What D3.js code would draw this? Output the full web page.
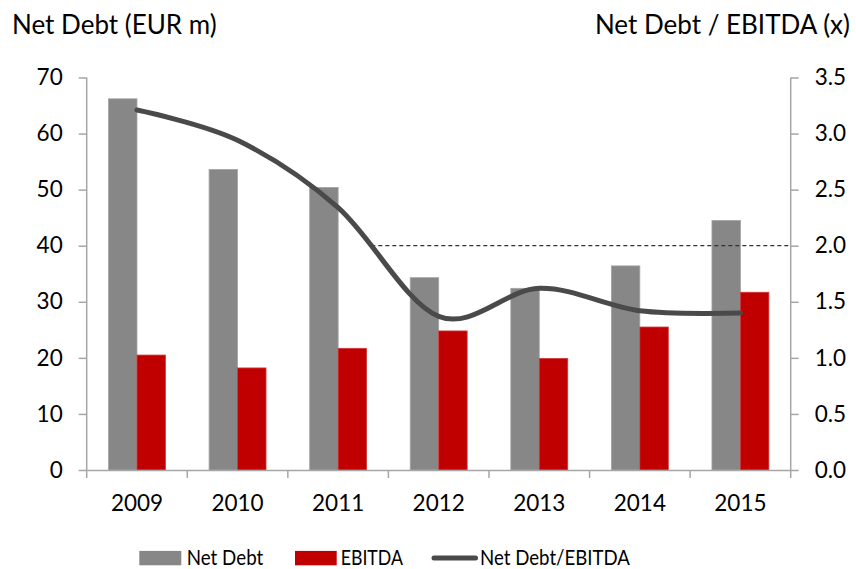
<!DOCTYPE html>
<html>
<head>
<meta charset="utf-8">
<script src="https://cdn.jsdelivr.net/npm/d3@7"></script>
<style>
  html, body { margin: 0; padding: 0; background: #fff; }
  svg { display: block; font-family: Lato, "Open Sans", sans-serif; }
</style>
</head>
<body>
<svg id="chart" width="856" height="569"></svg>
<script>
const years = ["2009", "2010", "2011", "2012", "2013", "2014", "2015"];
const netDebt = [66.2, 53.6, 50.4, 34.3, 32.4, 36.4, 44.5];
const ebitda = [20.5, 18.2, 21.7, 24.8, 19.9, 25.5, 31.7];
const ratio = [3.21, 2.94, 2.34, 1.37, 1.62, 1.42, 1.40];
const leftTicks = [0, 10, 20, 30, 40, 50, 60, 70];
const rightTicks = [0, 0.5, 1.0, 1.5, 2.0, 2.5, 3.0, 3.5];
const threshold = 2.0;
const seriesNames = ["Net Debt", "EBITDA", "Net Debt/EBITDA"];

const svg = d3.select("#chart");
const L = 86.7, R = 790.7, T = 77.5, B = 470;
const axisColor = "#a6a6a6";
const greyFill = "#878787", redFill = "#c00000", lineColor = "#4a4a4a";

const x = d3.scaleBand().domain(years).range([L, R]).padding(0);
const yL = d3.scaleLinear().domain([0, 70]).range([B, T]);
const yR = d3.scaleLinear().domain([0, 3.5]).range([B, T]);
const bw = x.bandwidth() * 0.283;
const cx = d => x(d) + x.bandwidth() / 2;

// Bars
svg.append("g").selectAll("rect").data(years).join("rect")
  .attr("x", (d) => cx(d) - bw)
  .attr("y", (d, i) => yL(netDebt[i]))
  .attr("width", bw)
  .attr("height", (d, i) => B - yL(netDebt[i]))
  .attr("fill", greyFill)
  .attr("stroke", "#a3a3a3").attr("stroke-width", 0.8);

svg.append("g").selectAll("rect").data(years).join("rect")
  .attr("x", (d) => cx(d))
  .attr("y", (d, i) => yL(ebitda[i]))
  .attr("width", bw)
  .attr("height", (d, i) => B - yL(ebitda[i]))
  .attr("fill", redFill)
  .attr("stroke", "#d03a3a").attr("stroke-width", 0.8);

// Threshold dashed line
svg.append("line")
  .attr("x1", x("2011") + x.bandwidth() * 0.83).attr("x2", R)
  .attr("y1", yR(threshold)).attr("y2", yR(threshold))
  .attr("stroke", "#333").attr("stroke-width", 1.2)
  .attr("stroke-dasharray", "4,3");

// Axes
const leftAxis = d3.axisLeft(yL).tickValues(leftTicks).tickSize(8).tickPadding(16)
  .tickFormat(d3.format("d"));
const gL = svg.append("g").attr("transform", `translate(${L},0)`).call(leftAxis);
const rightAxis = d3.axisRight(yR).tickValues(rightTicks).tickSize(8).tickPadding(16)
  .tickFormat(d3.format(".1f"));
const gR = svg.append("g").attr("transform", `translate(${R},0)`).call(rightAxis);
[gL, gR].forEach(g => {
  g.select(".domain").remove();
  g.selectAll(".tick line").attr("stroke", axisColor).attr("stroke-width", 1.5);
  g.selectAll(".tick text").attr("fill", "#000").style("font-size", "22.5px")
    .style("font-family", "Lato, sans-serif");
});
svg.append("line").attr("x1", L).attr("x2", L).attr("y1", T).attr("y2", B + 8)
  .attr("stroke", axisColor).attr("stroke-width", 1.5);
svg.append("line").attr("x1", R).attr("x2", R).attr("y1", T).attr("y2", B + 8)
  .attr("stroke", axisColor).attr("stroke-width", 1.5);

// Bottom axis
const gB = svg.append("g").attr("transform", `translate(0,${B})`)
  .call(d3.axisBottom(x).tickSize(0).tickPadding(25));
gB.select(".domain").attr("stroke", axisColor).attr("stroke-width", 1.5);
gB.selectAll(".tick text").attr("fill", "#000").style("font-size", "22.5px")
  .style("font-family", "Lato, sans-serif");
svg.append("g").selectAll("line").data(years.slice(1)).join("line")
  .attr("x1", d => x(d)).attr("x2", d => x(d))
  .attr("y1", B).attr("y2", B + 8)
  .attr("stroke", axisColor).attr("stroke-width", 1.5);

// Ratio line (smoothed)
const line = d3.line()
  .x((d, i) => cx(years[i]))
  .y(d => yR(d))
  .curve(d3.curveCatmullRom.alpha(0));
svg.append("path").datum(ratio)
  .attr("d", line)
  .attr("fill", "none")
  .attr("stroke", lineColor).attr("stroke-width", 5)
  .attr("stroke-linecap", "round");

// Titles
svg.append("text").attr("x", 12).attr("y", 34).text("Net Debt (EUR m)")
  .style("font-size", "26px").attr("fill", "#000");
svg.append("text").attr("x", 850).attr("y", 34).attr("text-anchor", "end")
  .text("Net Debt / EBITDA (x)").style("font-size", "26px").attr("fill", "#000");

// Legend
const lg = svg.append("g");
const ly = 564.5;
lg.append("rect").attr("x", 139.3).attr("y", ly - 13.6).attr("width", 42).attr("height", 14.4).attr("fill", greyFill);
lg.append("text").attr("x", 186.7).attr("y", ly).text(seriesNames[0]).style("font-size", "21px")
  .attr("textLength", 76.6).attr("lengthAdjust", "spacingAndGlyphs");
lg.append("rect").attr("x", 295).attr("y", ly - 13.6).attr("width", 41.7).attr("height", 14.4).attr("fill", redFill);
lg.append("text").attr("x", 340.7).attr("y", ly).text(seriesNames[1]).style("font-size", "21px")
  .attr("textLength", 62.3).attr("lengthAdjust", "spacingAndGlyphs");
lg.append("line").attr("x1", 434).attr("x2", 475.5).attr("y1", ly - 6.6).attr("y2", ly - 6.6)
  .attr("stroke", lineColor).attr("stroke-width", 5).attr("stroke-linecap", "round");
lg.append("text").attr("x", 480).attr("y", ly).text(seriesNames[2]).style("font-size", "21px")
  .attr("textLength", 150).attr("lengthAdjust", "spacingAndGlyphs");
</script>
</body>
</html>
